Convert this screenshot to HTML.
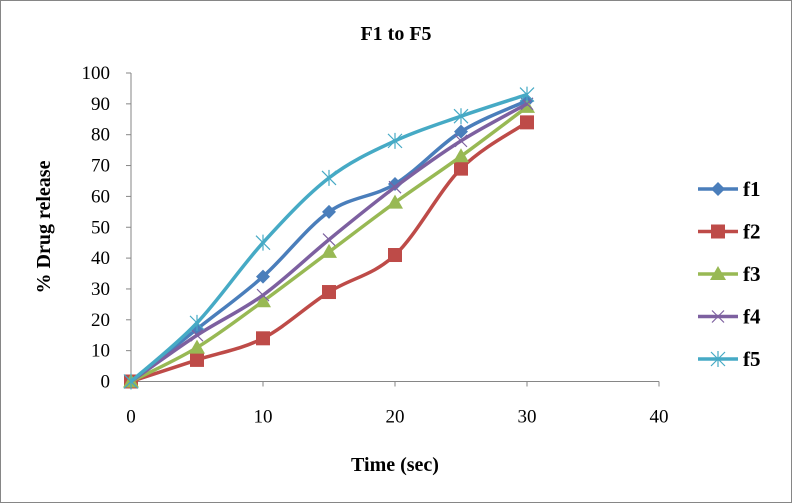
<!DOCTYPE html>
<html><head><meta charset="utf-8"><style>
body{margin:0;background:#fff}
svg{display:block;font-family:"Liberation Serif",serif}
</style></head><body>
<svg id="chart" width="792" height="503">
<rect x="0.5" y="0.5" width="791" height="502" fill="#fff" stroke="#868686"/>
<text x="396" y="40" text-anchor="middle" font-size="20" font-weight="bold">F1 to F5</text>
<text x="395" y="471" text-anchor="middle" font-size="20" font-weight="bold">Time (sec)</text>
<text transform="translate(50,227) rotate(-90)" text-anchor="middle" font-size="20" font-weight="bold">% Drug release</text>
<g id="axes"></g><g id="series"></g><g id="legend"></g>
</svg>
<script>
const xTicks=[0,10,20,30,40];
const yTicks=[0,10,20,30,40,50,60,70,80,90,100];
const times=[0,5,10,15,20,25,30];
const seriesNames=["f1","f2","f3","f4","f5"];
const f1=[0,17,34,55,64,81,91];
const f2=[0,7,14,29,41,69,84];
const f3=[0,11,26,42,58,73,89];
const f4=[0,15,28,46,63,78,90];
const f5=[0,19,45,66,78,86,93];
const colors=["#4a7ebb","#be4b48","#98b954","#7d60a0","#46aac5"];
const markers=["diamond","square","triangle","x","star"];
const NS="http://www.w3.org/2000/svg";
const X=v=>131+v*13.2, Y=v=>381.5-v*3.085;
function mk(t,a,p){const e=document.createElementNS(NS,t);for(const k in a)e.setAttribute(k,a[k]);p.appendChild(e);return e;}
const axes=document.getElementById('axes');
const ya=mk('line',{x1:X(0),y1:Y(0),x2:X(0),y2:Y(100),stroke:'#868686'},axes);


const xa=mk('line',{x1:X(0),y1:Y(0),x2:X(40),y2:Y(0),stroke:'#868686'},axes);


yTicks.forEach(v=>{mk('line',{x1:X(0)-5,y1:Y(v),x2:X(0),y2:Y(v),stroke:'#868686'},axes);
const t=mk('text',{x:X(0)-21,y:Y(v)+6,'text-anchor':'end','font-size':'19'},axes);t.textContent=v;

});
xTicks.forEach(v=>{mk('line',{x1:X(v),y1:Y(0),x2:X(v),y2:Y(0)+5,stroke:'#868686'},axes);
const t=mk('text',{x:X(v),y:Y(0)+41,'text-anchor':'middle','font-size':'19'},axes);t.textContent=v;

});
function path(pts){let d=`M${pts[0][0]},${pts[0][1]}`;for(let i=0;i<pts.length-1;i++){const p0=pts[i-1]||pts[i],p1=pts[i],p2=pts[i+1],p3=pts[i+2]||p2;
d+=`C${p1[0]+(p2[0]-p0[0])/6},${p1[1]+(p2[1]-p0[1])/6} ${p2[0]-(p3[0]-p1[0])/6},${p2[1]-(p3[1]-p1[1])/6} ${p2[0]},${p2[1]}`;}return d;}
function marker(type,x,y,c,g){
if(type==='diamond')return mk('polygon',{points:`${x},${y-7} ${x+7},${y} ${x},${y+7} ${x-7},${y}`,fill:c},g);
if(type==='square')return mk('rect',{x:x-7,y:y-7,width:14,height:14,fill:c},g);
if(type==='triangle')return mk('polygon',{points:`${x},${y-8} ${x+8},${y+6} ${x-8},${y+6}`,fill:c},g);
if(type==='x')return mk('path',{d:`M${x-6},${y-6}L${x+6},${y+6}M${x-6},${y+6}L${x+6},${y-6}`,stroke:c,'stroke-width':1.2},g);
return mk('path',{d:`M${x-7},${y-7}L${x+7},${y+7}M${x-7},${y+7}L${x+7},${y-7}M${x},${y-8}L${x},${y+8}`,stroke:c,'stroke-width':1.2},g);}
const sg=document.getElementById('series'),lg=document.getElementById('legend');
[f1,f2,f3,f4,f5].forEach((vals,i)=>{const g=mk('g',{},sg);


mk('path',{d:path(vals.map((v,j)=>[X(times[j]),Y(v)])),fill:'none',stroke:colors[i],'stroke-width':3.5},g);
vals.forEach((v,j)=>{const m=marker(markers[i],X(times[j]),Y(v),colors[i],g);

});
const le=mk('g',{},lg);


const ly=189+i*42.5;
mk('line',{x1:698,y1:ly,x2:738,y2:ly,stroke:colors[i],'stroke-width':3.5},le);
marker(markers[i],718,ly,colors[i],le);
const t=mk('text',{x:743,y:ly+7,'font-size':'21','font-weight':'bold'},le);t.textContent=seriesNames[i];});
</script>
</body></html>
